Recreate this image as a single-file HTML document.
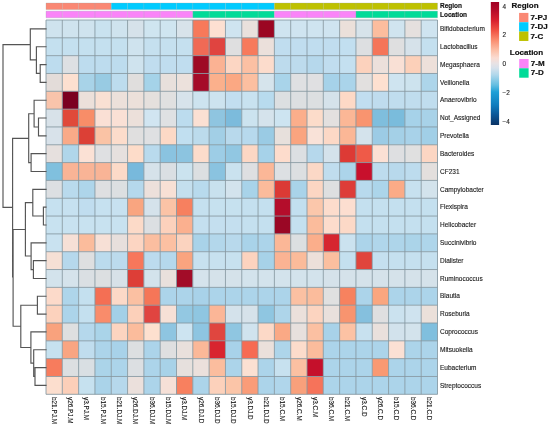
<!DOCTYPE html><html><head><meta charset="utf-8"><style>html,body{margin:0;padding:0;background:#fff;}svg{display:block;filter:blur(0.35px);}text{font-family:"Liberation Sans",sans-serif;}</style></head><body>
<svg width="550" height="427" viewBox="0 0 550 427">
<rect width="550" height="427" fill="#fff"/>
<rect x="46.00" y="20.00" width="16.36" height="17.87" fill="#cfe3ee"/>
<rect x="62.31" y="20.00" width="16.36" height="17.87" fill="#cfe3ee"/>
<rect x="78.62" y="20.00" width="16.36" height="17.87" fill="#cfe3ee"/>
<rect x="94.94" y="20.00" width="16.36" height="17.87" fill="#c9e2ef"/>
<rect x="111.25" y="20.00" width="16.36" height="17.87" fill="#cfe3ee"/>
<rect x="127.56" y="20.00" width="16.36" height="17.87" fill="#d6e2ea"/>
<rect x="143.88" y="20.00" width="16.36" height="17.87" fill="#cfe5f0"/>
<rect x="160.19" y="20.00" width="16.36" height="17.87" fill="#cfe5f0"/>
<rect x="176.50" y="20.00" width="16.36" height="17.87" fill="#d8e3ea"/>
<rect x="192.81" y="20.00" width="16.36" height="17.87" fill="#f7795a"/>
<rect x="209.12" y="20.00" width="16.36" height="17.87" fill="#fde0d2"/>
<rect x="225.44" y="20.00" width="16.36" height="17.87" fill="#cfe4f0"/>
<rect x="241.75" y="20.00" width="16.36" height="17.87" fill="#e9e0dc"/>
<rect x="258.06" y="20.00" width="16.36" height="17.87" fill="#9b0622"/>
<rect x="274.38" y="20.00" width="16.36" height="17.87" fill="#cfe4f0"/>
<rect x="290.69" y="20.00" width="16.36" height="17.87" fill="#cfe4f0"/>
<rect x="307.00" y="20.00" width="16.36" height="17.87" fill="#cfe4f0"/>
<rect x="323.31" y="20.00" width="16.36" height="17.87" fill="#cfe4f0"/>
<rect x="339.62" y="20.00" width="16.36" height="17.87" fill="#ebe0da"/>
<rect x="355.94" y="20.00" width="16.36" height="17.87" fill="#d7e3ea"/>
<rect x="372.25" y="20.00" width="16.36" height="17.87" fill="#fcbd9e"/>
<rect x="388.56" y="20.00" width="16.36" height="17.87" fill="#d0e4ef"/>
<rect x="404.88" y="20.00" width="16.36" height="17.87" fill="#e5e0de"/>
<rect x="421.19" y="20.00" width="16.36" height="17.87" fill="#cfe4f0"/>
<rect x="46.00" y="37.82" width="16.36" height="17.87" fill="#c4e0ef"/>
<rect x="62.31" y="37.82" width="16.36" height="17.87" fill="#c4e0ef"/>
<rect x="78.62" y="37.82" width="16.36" height="17.87" fill="#c4e0ef"/>
<rect x="94.94" y="37.82" width="16.36" height="17.87" fill="#c4e0ef"/>
<rect x="111.25" y="37.82" width="16.36" height="17.87" fill="#c4e0ef"/>
<rect x="127.56" y="37.82" width="16.36" height="17.87" fill="#cfe3ee"/>
<rect x="143.88" y="37.82" width="16.36" height="17.87" fill="#c5e0ef"/>
<rect x="160.19" y="37.82" width="16.36" height="17.87" fill="#c5e0ef"/>
<rect x="176.50" y="37.82" width="16.36" height="17.87" fill="#c5e0ef"/>
<rect x="192.81" y="37.82" width="16.36" height="17.87" fill="#f06a55"/>
<rect x="209.12" y="37.82" width="16.36" height="17.87" fill="#e04440"/>
<rect x="225.44" y="37.82" width="16.36" height="17.87" fill="#dfdfe0"/>
<rect x="241.75" y="37.82" width="16.36" height="17.87" fill="#f77a5c"/>
<rect x="258.06" y="37.82" width="16.36" height="17.87" fill="#ebe0db"/>
<rect x="274.38" y="37.82" width="16.36" height="17.87" fill="#c0ddef"/>
<rect x="290.69" y="37.82" width="16.36" height="17.87" fill="#c0ddef"/>
<rect x="307.00" y="37.82" width="16.36" height="17.87" fill="#c0ddef"/>
<rect x="323.31" y="37.82" width="16.36" height="17.87" fill="#c0ddef"/>
<rect x="339.62" y="37.82" width="16.36" height="17.87" fill="#c2dff0"/>
<rect x="355.94" y="37.82" width="16.36" height="17.87" fill="#dddfe1"/>
<rect x="372.25" y="37.82" width="16.36" height="17.87" fill="#f57559"/>
<rect x="388.56" y="37.82" width="16.36" height="17.87" fill="#dfdfe0"/>
<rect x="404.88" y="37.82" width="16.36" height="17.87" fill="#d6e2ea"/>
<rect x="421.19" y="37.82" width="16.36" height="17.87" fill="#c4e0ef"/>
<rect x="46.00" y="55.65" width="16.36" height="17.87" fill="#bddcee"/>
<rect x="62.31" y="55.65" width="16.36" height="17.87" fill="#dde0e3"/>
<rect x="78.62" y="55.65" width="16.36" height="17.87" fill="#bddcee"/>
<rect x="94.94" y="55.65" width="16.36" height="17.87" fill="#bddcee"/>
<rect x="111.25" y="55.65" width="16.36" height="17.87" fill="#bddcee"/>
<rect x="127.56" y="55.65" width="16.36" height="17.87" fill="#cfe3ee"/>
<rect x="143.88" y="55.65" width="16.36" height="17.87" fill="#c0ddef"/>
<rect x="160.19" y="55.65" width="16.36" height="17.87" fill="#c0ddef"/>
<rect x="176.50" y="55.65" width="16.36" height="17.87" fill="#c0ddef"/>
<rect x="192.81" y="55.65" width="16.36" height="17.87" fill="#9e0a24"/>
<rect x="209.12" y="55.65" width="16.36" height="17.87" fill="#fbb293"/>
<rect x="225.44" y="55.65" width="16.36" height="17.87" fill="#fcd6c3"/>
<rect x="241.75" y="55.65" width="16.36" height="17.87" fill="#fcc0a3"/>
<rect x="258.06" y="55.65" width="16.36" height="17.87" fill="#fcdccc"/>
<rect x="274.38" y="55.65" width="16.36" height="17.87" fill="#bddbed"/>
<rect x="290.69" y="55.65" width="16.36" height="17.87" fill="#bddbed"/>
<rect x="307.00" y="55.65" width="16.36" height="17.87" fill="#b6d8ec"/>
<rect x="323.31" y="55.65" width="16.36" height="17.87" fill="#c0ddef"/>
<rect x="339.62" y="55.65" width="16.36" height="17.87" fill="#c4e0f0"/>
<rect x="355.94" y="55.65" width="16.36" height="17.87" fill="#fcd2bd"/>
<rect x="372.25" y="55.65" width="16.36" height="17.87" fill="#ece0db"/>
<rect x="388.56" y="55.65" width="16.36" height="17.87" fill="#f9e0d5"/>
<rect x="404.88" y="55.65" width="16.36" height="17.87" fill="#fcd0b9"/>
<rect x="421.19" y="55.65" width="16.36" height="17.87" fill="#ede0da"/>
<rect x="46.00" y="73.47" width="16.36" height="17.87" fill="#e3dcd9"/>
<rect x="62.31" y="73.47" width="16.36" height="17.87" fill="#fde0d0"/>
<rect x="78.62" y="73.47" width="16.36" height="17.87" fill="#a8d3e8"/>
<rect x="94.94" y="73.47" width="16.36" height="17.87" fill="#98cbe3"/>
<rect x="111.25" y="73.47" width="16.36" height="17.87" fill="#bddcee"/>
<rect x="127.56" y="73.47" width="16.36" height="17.87" fill="#e0dedd"/>
<rect x="143.88" y="73.47" width="16.36" height="17.87" fill="#a5d3e9"/>
<rect x="160.19" y="73.47" width="16.36" height="17.87" fill="#e8e0dc"/>
<rect x="176.50" y="73.47" width="16.36" height="17.87" fill="#ece1dc"/>
<rect x="192.81" y="73.47" width="16.36" height="17.87" fill="#a50b28"/>
<rect x="209.12" y="73.47" width="16.36" height="17.87" fill="#fbb08c"/>
<rect x="225.44" y="73.47" width="16.36" height="17.87" fill="#fba883"/>
<rect x="241.75" y="73.47" width="16.36" height="17.87" fill="#fcbfa0"/>
<rect x="258.06" y="73.47" width="16.36" height="17.87" fill="#d6e4ec"/>
<rect x="274.38" y="73.47" width="16.36" height="17.87" fill="#a9d4ea"/>
<rect x="290.69" y="73.47" width="16.36" height="17.87" fill="#dfe0e2"/>
<rect x="307.00" y="73.47" width="16.36" height="17.87" fill="#e0e0e2"/>
<rect x="323.31" y="73.47" width="16.36" height="17.87" fill="#a6d2e9"/>
<rect x="339.62" y="73.47" width="16.36" height="17.87" fill="#aad4ea"/>
<rect x="355.94" y="73.47" width="16.36" height="17.87" fill="#e2e0df"/>
<rect x="372.25" y="73.47" width="16.36" height="17.87" fill="#fde0d0"/>
<rect x="388.56" y="73.47" width="16.36" height="17.87" fill="#cfe4f0"/>
<rect x="404.88" y="73.47" width="16.36" height="17.87" fill="#cde3ee"/>
<rect x="421.19" y="73.47" width="16.36" height="17.87" fill="#add5ea"/>
<rect x="46.00" y="91.30" width="16.36" height="17.87" fill="#f9c4ab"/>
<rect x="62.31" y="91.30" width="16.36" height="17.87" fill="#7b0020"/>
<rect x="78.62" y="91.30" width="16.36" height="17.87" fill="#ece0da"/>
<rect x="94.94" y="91.30" width="16.36" height="17.87" fill="#f9e0d3"/>
<rect x="111.25" y="91.30" width="16.36" height="17.87" fill="#ece0da"/>
<rect x="127.56" y="91.30" width="16.36" height="17.87" fill="#ece0da"/>
<rect x="143.88" y="91.30" width="16.36" height="17.87" fill="#e5e0dd"/>
<rect x="160.19" y="91.30" width="16.36" height="17.87" fill="#e0e0e0"/>
<rect x="176.50" y="91.30" width="16.36" height="17.87" fill="#d7e3eb"/>
<rect x="192.81" y="91.30" width="16.36" height="17.87" fill="#cde3ef"/>
<rect x="209.12" y="91.30" width="16.36" height="17.87" fill="#cde3ef"/>
<rect x="225.44" y="91.30" width="16.36" height="17.87" fill="#c2def0"/>
<rect x="241.75" y="91.30" width="16.36" height="17.87" fill="#c8e2f0"/>
<rect x="258.06" y="91.30" width="16.36" height="17.87" fill="#b8dbee"/>
<rect x="274.38" y="91.30" width="16.36" height="17.87" fill="#dcdfe1"/>
<rect x="290.69" y="91.30" width="16.36" height="17.87" fill="#dcdfe1"/>
<rect x="307.00" y="91.30" width="16.36" height="17.87" fill="#dcdfe1"/>
<rect x="323.31" y="91.30" width="16.36" height="17.87" fill="#d5e2ea"/>
<rect x="339.62" y="91.30" width="16.36" height="17.87" fill="#fdd9c6"/>
<rect x="355.94" y="91.30" width="16.36" height="17.87" fill="#c1def0"/>
<rect x="372.25" y="91.30" width="16.36" height="17.87" fill="#bfdcee"/>
<rect x="388.56" y="91.30" width="16.36" height="17.87" fill="#c0ddee"/>
<rect x="404.88" y="91.30" width="16.36" height="17.87" fill="#c0ddee"/>
<rect x="421.19" y="91.30" width="16.36" height="17.87" fill="#c0ddee"/>
<rect x="46.00" y="109.12" width="16.36" height="17.87" fill="#d8e2e9"/>
<rect x="62.31" y="109.12" width="16.36" height="17.87" fill="#e0493a"/>
<rect x="78.62" y="109.12" width="16.36" height="17.87" fill="#f88d68"/>
<rect x="94.94" y="109.12" width="16.36" height="17.87" fill="#fae0d5"/>
<rect x="111.25" y="109.12" width="16.36" height="17.87" fill="#fae0d5"/>
<rect x="127.56" y="109.12" width="16.36" height="17.87" fill="#ece0da"/>
<rect x="143.88" y="109.12" width="16.36" height="17.87" fill="#d1e5f1"/>
<rect x="160.19" y="109.12" width="16.36" height="17.87" fill="#dfe1e3"/>
<rect x="176.50" y="109.12" width="16.36" height="17.87" fill="#bcdcee"/>
<rect x="192.81" y="109.12" width="16.36" height="17.87" fill="#fbe0d3"/>
<rect x="209.12" y="109.12" width="16.36" height="17.87" fill="#8fc5e0"/>
<rect x="225.44" y="109.12" width="16.36" height="17.87" fill="#7cbbdc"/>
<rect x="241.75" y="109.12" width="16.36" height="17.87" fill="#cce3ef"/>
<rect x="258.06" y="109.12" width="16.36" height="17.87" fill="#d5e3ec"/>
<rect x="274.38" y="109.12" width="16.36" height="17.87" fill="#cde4f1"/>
<rect x="290.69" y="109.12" width="16.36" height="17.87" fill="#fbae8b"/>
<rect x="307.00" y="109.12" width="16.36" height="17.87" fill="#fcdcca"/>
<rect x="323.31" y="109.12" width="16.36" height="17.87" fill="#e3e0df"/>
<rect x="339.62" y="109.12" width="16.36" height="17.87" fill="#fbb796"/>
<rect x="355.94" y="109.12" width="16.36" height="17.87" fill="#f9946f"/>
<rect x="372.25" y="109.12" width="16.36" height="17.87" fill="#7fbedd"/>
<rect x="388.56" y="109.12" width="16.36" height="17.87" fill="#7abcdc"/>
<rect x="404.88" y="109.12" width="16.36" height="17.87" fill="#a6d2e9"/>
<rect x="421.19" y="109.12" width="16.36" height="17.87" fill="#a8d2e8"/>
<rect x="46.00" y="126.94" width="16.36" height="17.87" fill="#d8e2ea"/>
<rect x="62.31" y="126.94" width="16.36" height="17.87" fill="#f9aa88"/>
<rect x="78.62" y="126.94" width="16.36" height="17.87" fill="#dc4036"/>
<rect x="94.94" y="126.94" width="16.36" height="17.87" fill="#fac3a5"/>
<rect x="111.25" y="126.94" width="16.36" height="17.87" fill="#fcdccb"/>
<rect x="127.56" y="126.94" width="16.36" height="17.87" fill="#e0dfdf"/>
<rect x="143.88" y="126.94" width="16.36" height="17.87" fill="#dfe0e2"/>
<rect x="160.19" y="126.94" width="16.36" height="17.87" fill="#fcd9c6"/>
<rect x="176.50" y="126.94" width="16.36" height="17.87" fill="#c1dff0"/>
<rect x="192.81" y="126.94" width="16.36" height="17.87" fill="#bcdbec"/>
<rect x="209.12" y="126.94" width="16.36" height="17.87" fill="#a2cfe6"/>
<rect x="225.44" y="126.94" width="16.36" height="17.87" fill="#b8d9ec"/>
<rect x="241.75" y="126.94" width="16.36" height="17.87" fill="#b7d9ed"/>
<rect x="258.06" y="126.94" width="16.36" height="17.87" fill="#9acbe4"/>
<rect x="274.38" y="126.94" width="16.36" height="17.87" fill="#e7e0dc"/>
<rect x="290.69" y="126.94" width="16.36" height="17.87" fill="#faa47f"/>
<rect x="307.00" y="126.94" width="16.36" height="17.87" fill="#f9e2d8"/>
<rect x="323.31" y="126.94" width="16.36" height="17.87" fill="#fcd8c6"/>
<rect x="339.62" y="126.94" width="16.36" height="17.87" fill="#fbb796"/>
<rect x="355.94" y="126.94" width="16.36" height="17.87" fill="#d4e3ec"/>
<rect x="372.25" y="126.94" width="16.36" height="17.87" fill="#9ccbe5"/>
<rect x="388.56" y="126.94" width="16.36" height="17.87" fill="#a4d0e7"/>
<rect x="404.88" y="126.94" width="16.36" height="17.87" fill="#a8d2e9"/>
<rect x="421.19" y="126.94" width="16.36" height="17.87" fill="#a1cfe7"/>
<rect x="46.00" y="144.77" width="16.36" height="17.87" fill="#e6e0de"/>
<rect x="62.31" y="144.77" width="16.36" height="17.87" fill="#b0d6ea"/>
<rect x="78.62" y="144.77" width="16.36" height="17.87" fill="#fbe1d5"/>
<rect x="94.94" y="144.77" width="16.36" height="17.87" fill="#dfe0e2"/>
<rect x="111.25" y="144.77" width="16.36" height="17.87" fill="#e6e0de"/>
<rect x="127.56" y="144.77" width="16.36" height="17.87" fill="#fddcc9"/>
<rect x="143.88" y="144.77" width="16.36" height="17.87" fill="#b9daed"/>
<rect x="160.19" y="144.77" width="16.36" height="17.87" fill="#8ac3e0"/>
<rect x="176.50" y="144.77" width="16.36" height="17.87" fill="#8cc4e0"/>
<rect x="192.81" y="144.77" width="16.36" height="17.87" fill="#fcdccb"/>
<rect x="209.12" y="144.77" width="16.36" height="17.87" fill="#9dcde6"/>
<rect x="225.44" y="144.77" width="16.36" height="17.87" fill="#91c7e2"/>
<rect x="241.75" y="144.77" width="16.36" height="17.87" fill="#fcd7c4"/>
<rect x="258.06" y="144.77" width="16.36" height="17.87" fill="#a6d2e9"/>
<rect x="274.38" y="144.77" width="16.36" height="17.87" fill="#fddccc"/>
<rect x="290.69" y="144.77" width="16.36" height="17.87" fill="#dcdfe2"/>
<rect x="307.00" y="144.77" width="16.36" height="17.87" fill="#b6d8ec"/>
<rect x="323.31" y="144.77" width="16.36" height="17.87" fill="#d4e2eb"/>
<rect x="339.62" y="144.77" width="16.36" height="17.87" fill="#dd3a35"/>
<rect x="355.94" y="144.77" width="16.36" height="17.87" fill="#ef5a48"/>
<rect x="372.25" y="144.77" width="16.36" height="17.87" fill="#fbe0d4"/>
<rect x="388.56" y="144.77" width="16.36" height="17.87" fill="#dedfe1"/>
<rect x="404.88" y="144.77" width="16.36" height="17.87" fill="#e0e0e0"/>
<rect x="421.19" y="144.77" width="16.36" height="17.87" fill="#fcd6c3"/>
<rect x="46.00" y="162.59" width="16.36" height="17.87" fill="#80c0de"/>
<rect x="62.31" y="162.59" width="16.36" height="17.87" fill="#f9b496"/>
<rect x="78.62" y="162.59" width="16.36" height="17.87" fill="#f9b496"/>
<rect x="94.94" y="162.59" width="16.36" height="17.87" fill="#f9b496"/>
<rect x="111.25" y="162.59" width="16.36" height="17.87" fill="#fcdac8"/>
<rect x="127.56" y="162.59" width="16.36" height="17.87" fill="#78b9dc"/>
<rect x="143.88" y="162.59" width="16.36" height="17.87" fill="#d6e2ea"/>
<rect x="160.19" y="162.59" width="16.36" height="17.87" fill="#dadfe3"/>
<rect x="176.50" y="162.59" width="16.36" height="17.87" fill="#cbe3ef"/>
<rect x="192.81" y="162.59" width="16.36" height="17.87" fill="#dcdfe1"/>
<rect x="209.12" y="162.59" width="16.36" height="17.87" fill="#8ac3e0"/>
<rect x="225.44" y="162.59" width="16.36" height="17.87" fill="#cae2ef"/>
<rect x="241.75" y="162.59" width="16.36" height="17.87" fill="#dedfe1"/>
<rect x="258.06" y="162.59" width="16.36" height="17.87" fill="#fbb797"/>
<rect x="274.38" y="162.59" width="16.36" height="17.87" fill="#dde0e3"/>
<rect x="290.69" y="162.59" width="16.36" height="17.87" fill="#dcdfe1"/>
<rect x="307.00" y="162.59" width="16.36" height="17.87" fill="#fbd8c6"/>
<rect x="323.31" y="162.59" width="16.36" height="17.87" fill="#c0ddee"/>
<rect x="339.62" y="162.59" width="16.36" height="17.87" fill="#acd4ea"/>
<rect x="355.94" y="162.59" width="16.36" height="17.87" fill="#c8102c"/>
<rect x="372.25" y="162.59" width="16.36" height="17.87" fill="#bddcee"/>
<rect x="388.56" y="162.59" width="16.36" height="17.87" fill="#b8d9ec"/>
<rect x="404.88" y="162.59" width="16.36" height="17.87" fill="#bddcee"/>
<rect x="421.19" y="162.59" width="16.36" height="17.87" fill="#e3dfdd"/>
<rect x="46.00" y="180.41" width="16.36" height="17.87" fill="#dcdfe2"/>
<rect x="62.31" y="180.41" width="16.36" height="17.87" fill="#b9daed"/>
<rect x="78.62" y="180.41" width="16.36" height="17.87" fill="#aed5ea"/>
<rect x="94.94" y="180.41" width="16.36" height="17.87" fill="#dedfe1"/>
<rect x="111.25" y="180.41" width="16.36" height="17.87" fill="#dcdfe1"/>
<rect x="127.56" y="180.41" width="16.36" height="17.87" fill="#b5d8ec"/>
<rect x="143.88" y="180.41" width="16.36" height="17.87" fill="#ede0db"/>
<rect x="160.19" y="180.41" width="16.36" height="17.87" fill="#f8e0d5"/>
<rect x="176.50" y="180.41" width="16.36" height="17.87" fill="#c4dfee"/>
<rect x="192.81" y="180.41" width="16.36" height="17.87" fill="#b8daed"/>
<rect x="209.12" y="180.41" width="16.36" height="17.87" fill="#c8e1ee"/>
<rect x="225.44" y="180.41" width="16.36" height="17.87" fill="#d3e3ed"/>
<rect x="241.75" y="180.41" width="16.36" height="17.87" fill="#a8d3e9"/>
<rect x="258.06" y="180.41" width="16.36" height="17.87" fill="#fbbb9b"/>
<rect x="274.38" y="180.41" width="16.36" height="17.87" fill="#db3a35"/>
<rect x="290.69" y="180.41" width="16.36" height="17.87" fill="#a9d3e9"/>
<rect x="307.00" y="180.41" width="16.36" height="17.87" fill="#fcd6c3"/>
<rect x="323.31" y="180.41" width="16.36" height="17.87" fill="#dedfe0"/>
<rect x="339.62" y="180.41" width="16.36" height="17.87" fill="#dd3d38"/>
<rect x="355.94" y="180.41" width="16.36" height="17.87" fill="#b8daed"/>
<rect x="372.25" y="180.41" width="16.36" height="17.87" fill="#acd5ea"/>
<rect x="388.56" y="180.41" width="16.36" height="17.87" fill="#fbab87"/>
<rect x="404.88" y="180.41" width="16.36" height="17.87" fill="#c7e1ef"/>
<rect x="421.19" y="180.41" width="16.36" height="17.87" fill="#d3e3ec"/>
<rect x="46.00" y="198.24" width="16.36" height="17.87" fill="#c6e1f0"/>
<rect x="62.31" y="198.24" width="16.36" height="17.87" fill="#c6e1f0"/>
<rect x="78.62" y="198.24" width="16.36" height="17.87" fill="#c0ddef"/>
<rect x="94.94" y="198.24" width="16.36" height="17.87" fill="#c6e1f0"/>
<rect x="111.25" y="198.24" width="16.36" height="17.87" fill="#c7e1f0"/>
<rect x="127.56" y="198.24" width="16.36" height="17.87" fill="#f9a580"/>
<rect x="143.88" y="198.24" width="16.36" height="17.87" fill="#d5e2eb"/>
<rect x="160.19" y="198.24" width="16.36" height="17.87" fill="#fbc3a6"/>
<rect x="176.50" y="198.24" width="16.36" height="17.87" fill="#f7805f"/>
<rect x="192.81" y="198.24" width="16.36" height="17.87" fill="#c5e0ef"/>
<rect x="209.12" y="198.24" width="16.36" height="17.87" fill="#c6e1ef"/>
<rect x="225.44" y="198.24" width="16.36" height="17.87" fill="#c6e1ef"/>
<rect x="241.75" y="198.24" width="16.36" height="17.87" fill="#c4e0ef"/>
<rect x="258.06" y="198.24" width="16.36" height="17.87" fill="#c4e0ef"/>
<rect x="274.38" y="198.24" width="16.36" height="17.87" fill="#b40d2b"/>
<rect x="290.69" y="198.24" width="16.36" height="17.87" fill="#c2dfef"/>
<rect x="307.00" y="198.24" width="16.36" height="17.87" fill="#fbc7ab"/>
<rect x="323.31" y="198.24" width="16.36" height="17.87" fill="#fcdccc"/>
<rect x="339.62" y="198.24" width="16.36" height="17.87" fill="#fcded0"/>
<rect x="355.94" y="198.24" width="16.36" height="17.87" fill="#c4e0ef"/>
<rect x="372.25" y="198.24" width="16.36" height="17.87" fill="#c4e0ef"/>
<rect x="388.56" y="198.24" width="16.36" height="17.87" fill="#c4e0ef"/>
<rect x="404.88" y="198.24" width="16.36" height="17.87" fill="#c4e0ef"/>
<rect x="421.19" y="198.24" width="16.36" height="17.87" fill="#c4e0ef"/>
<rect x="46.00" y="216.06" width="16.36" height="17.87" fill="#c8e2f0"/>
<rect x="62.31" y="216.06" width="16.36" height="17.87" fill="#c8e2f0"/>
<rect x="78.62" y="216.06" width="16.36" height="17.87" fill="#c8e2f0"/>
<rect x="94.94" y="216.06" width="16.36" height="17.87" fill="#c8e2f0"/>
<rect x="111.25" y="216.06" width="16.36" height="17.87" fill="#c8e2f0"/>
<rect x="127.56" y="216.06" width="16.36" height="17.87" fill="#fcdac8"/>
<rect x="143.88" y="216.06" width="16.36" height="17.87" fill="#dcdfe2"/>
<rect x="160.19" y="216.06" width="16.36" height="17.87" fill="#fcd1bc"/>
<rect x="176.50" y="216.06" width="16.36" height="17.87" fill="#fbb08f"/>
<rect x="192.81" y="216.06" width="16.36" height="17.87" fill="#c4dfef"/>
<rect x="209.12" y="216.06" width="16.36" height="17.87" fill="#c4dfef"/>
<rect x="225.44" y="216.06" width="16.36" height="17.87" fill="#c4dfef"/>
<rect x="241.75" y="216.06" width="16.36" height="17.87" fill="#c4e0ef"/>
<rect x="258.06" y="216.06" width="16.36" height="17.87" fill="#c4e0ef"/>
<rect x="274.38" y="216.06" width="16.36" height="17.87" fill="#9a0725"/>
<rect x="290.69" y="216.06" width="16.36" height="17.87" fill="#c4e0ef"/>
<rect x="307.00" y="216.06" width="16.36" height="17.87" fill="#fbbc9c"/>
<rect x="323.31" y="216.06" width="16.36" height="17.87" fill="#fcdccc"/>
<rect x="339.62" y="216.06" width="16.36" height="17.87" fill="#fcd9c7"/>
<rect x="355.94" y="216.06" width="16.36" height="17.87" fill="#c4e0ef"/>
<rect x="372.25" y="216.06" width="16.36" height="17.87" fill="#c4e0ef"/>
<rect x="388.56" y="216.06" width="16.36" height="17.87" fill="#c4e0ef"/>
<rect x="404.88" y="216.06" width="16.36" height="17.87" fill="#c4e0ef"/>
<rect x="421.19" y="216.06" width="16.36" height="17.87" fill="#c4e0ef"/>
<rect x="46.00" y="233.89" width="16.36" height="17.87" fill="#c9e2f0"/>
<rect x="62.31" y="233.89" width="16.36" height="17.87" fill="#f6e0d6"/>
<rect x="78.62" y="233.89" width="16.36" height="17.87" fill="#fbbc9c"/>
<rect x="94.94" y="233.89" width="16.36" height="17.87" fill="#f7e0d6"/>
<rect x="111.25" y="233.89" width="16.36" height="17.87" fill="#e7dfdc"/>
<rect x="127.56" y="233.89" width="16.36" height="17.87" fill="#fcd5c2"/>
<rect x="143.88" y="233.89" width="16.36" height="17.87" fill="#fbbea0"/>
<rect x="160.19" y="233.89" width="16.36" height="17.87" fill="#fcc0a2"/>
<rect x="176.50" y="233.89" width="16.36" height="17.87" fill="#fbd3bf"/>
<rect x="192.81" y="233.89" width="16.36" height="17.87" fill="#a9d3e9"/>
<rect x="209.12" y="233.89" width="16.36" height="17.87" fill="#b3d7eb"/>
<rect x="225.44" y="233.89" width="16.36" height="17.87" fill="#b8d9ec"/>
<rect x="241.75" y="233.89" width="16.36" height="17.87" fill="#a9d3e9"/>
<rect x="258.06" y="233.89" width="16.36" height="17.87" fill="#acd4ea"/>
<rect x="274.38" y="233.89" width="16.36" height="17.87" fill="#fbb797"/>
<rect x="290.69" y="233.89" width="16.36" height="17.87" fill="#dcdfe1"/>
<rect x="307.00" y="233.89" width="16.36" height="17.87" fill="#fbae8b"/>
<rect x="323.31" y="233.89" width="16.36" height="17.87" fill="#d6262f"/>
<rect x="339.62" y="233.89" width="16.36" height="17.87" fill="#cbe2ef"/>
<rect x="355.94" y="233.89" width="16.36" height="17.87" fill="#acd4ea"/>
<rect x="372.25" y="233.89" width="16.36" height="17.87" fill="#b0d6eb"/>
<rect x="388.56" y="233.89" width="16.36" height="17.87" fill="#aed5ea"/>
<rect x="404.88" y="233.89" width="16.36" height="17.87" fill="#abd4e9"/>
<rect x="421.19" y="233.89" width="16.36" height="17.87" fill="#aed5ea"/>
<rect x="46.00" y="251.71" width="16.36" height="17.87" fill="#f6e0d5"/>
<rect x="62.31" y="251.71" width="16.36" height="17.87" fill="#b6d8ec"/>
<rect x="78.62" y="251.71" width="16.36" height="17.87" fill="#dedfe0"/>
<rect x="94.94" y="251.71" width="16.36" height="17.87" fill="#bbdbed"/>
<rect x="111.25" y="251.71" width="16.36" height="17.87" fill="#bcdbed"/>
<rect x="127.56" y="251.71" width="16.36" height="17.87" fill="#f7775b"/>
<rect x="143.88" y="251.71" width="16.36" height="17.87" fill="#bcdbee"/>
<rect x="160.19" y="251.71" width="16.36" height="17.87" fill="#b5d8ec"/>
<rect x="176.50" y="251.71" width="16.36" height="17.87" fill="#f9a47f"/>
<rect x="192.81" y="251.71" width="16.36" height="17.87" fill="#c7e1ef"/>
<rect x="209.12" y="251.71" width="16.36" height="17.87" fill="#c7e1ef"/>
<rect x="225.44" y="251.71" width="16.36" height="17.87" fill="#c7e1ef"/>
<rect x="241.75" y="251.71" width="16.36" height="17.87" fill="#fcd3bf"/>
<rect x="258.06" y="251.71" width="16.36" height="17.87" fill="#a7d2e8"/>
<rect x="274.38" y="251.71" width="16.36" height="17.87" fill="#fbb393"/>
<rect x="290.69" y="251.71" width="16.36" height="17.87" fill="#fbbb9a"/>
<rect x="307.00" y="251.71" width="16.36" height="17.87" fill="#ede0da"/>
<rect x="323.31" y="251.71" width="16.36" height="17.87" fill="#fbbf9f"/>
<rect x="339.62" y="251.71" width="16.36" height="17.87" fill="#c4e0ef"/>
<rect x="355.94" y="251.71" width="16.36" height="17.87" fill="#e0453c"/>
<rect x="372.25" y="251.71" width="16.36" height="17.87" fill="#c5e0ef"/>
<rect x="388.56" y="251.71" width="16.36" height="17.87" fill="#c5e0ef"/>
<rect x="404.88" y="251.71" width="16.36" height="17.87" fill="#c5e0ef"/>
<rect x="421.19" y="251.71" width="16.36" height="17.87" fill="#c5e0ef"/>
<rect x="46.00" y="269.53" width="16.36" height="17.87" fill="#d3e3ec"/>
<rect x="62.31" y="269.53" width="16.36" height="17.87" fill="#d5e3eb"/>
<rect x="78.62" y="269.53" width="16.36" height="17.87" fill="#dadfe3"/>
<rect x="94.94" y="269.53" width="16.36" height="17.87" fill="#dcdfe1"/>
<rect x="111.25" y="269.53" width="16.36" height="17.87" fill="#d7e1e8"/>
<rect x="127.56" y="269.53" width="16.36" height="17.87" fill="#dd3e37"/>
<rect x="143.88" y="269.53" width="16.36" height="17.87" fill="#d3e3ec"/>
<rect x="160.19" y="269.53" width="16.36" height="17.87" fill="#e9e0dc"/>
<rect x="176.50" y="269.53" width="16.36" height="17.87" fill="#a20c28"/>
<rect x="192.81" y="269.53" width="16.36" height="17.87" fill="#d5e3ec"/>
<rect x="209.12" y="269.53" width="16.36" height="17.87" fill="#d5e2ea"/>
<rect x="225.44" y="269.53" width="16.36" height="17.87" fill="#d5e2ea"/>
<rect x="241.75" y="269.53" width="16.36" height="17.87" fill="#d3e3ec"/>
<rect x="258.06" y="269.53" width="16.36" height="17.87" fill="#d3e3ec"/>
<rect x="274.38" y="269.53" width="16.36" height="17.87" fill="#d3e3ec"/>
<rect x="290.69" y="269.53" width="16.36" height="17.87" fill="#d3e3ec"/>
<rect x="307.00" y="269.53" width="16.36" height="17.87" fill="#d3e3ec"/>
<rect x="323.31" y="269.53" width="16.36" height="17.87" fill="#d5e2ea"/>
<rect x="339.62" y="269.53" width="16.36" height="17.87" fill="#d5e2ea"/>
<rect x="355.94" y="269.53" width="16.36" height="17.87" fill="#d5e2ea"/>
<rect x="372.25" y="269.53" width="16.36" height="17.87" fill="#d5e2ea"/>
<rect x="388.56" y="269.53" width="16.36" height="17.87" fill="#d5e2ea"/>
<rect x="404.88" y="269.53" width="16.36" height="17.87" fill="#d5e2ea"/>
<rect x="421.19" y="269.53" width="16.36" height="17.87" fill="#d5e2ea"/>
<rect x="46.00" y="287.36" width="16.36" height="17.87" fill="#fcdaca"/>
<rect x="62.31" y="287.36" width="16.36" height="17.87" fill="#aed5ea"/>
<rect x="78.62" y="287.36" width="16.36" height="17.87" fill="#c4e0ef"/>
<rect x="94.94" y="287.36" width="16.36" height="17.87" fill="#f46f54"/>
<rect x="111.25" y="287.36" width="16.36" height="17.87" fill="#fcd9c7"/>
<rect x="127.56" y="287.36" width="16.36" height="17.87" fill="#fbc0a2"/>
<rect x="143.88" y="287.36" width="16.36" height="17.87" fill="#f57658"/>
<rect x="160.19" y="287.36" width="16.36" height="17.87" fill="#acd4ea"/>
<rect x="176.50" y="287.36" width="16.36" height="17.87" fill="#acd4ea"/>
<rect x="192.81" y="287.36" width="16.36" height="17.87" fill="#a8d2e9"/>
<rect x="209.12" y="287.36" width="16.36" height="17.87" fill="#acd4ea"/>
<rect x="225.44" y="287.36" width="16.36" height="17.87" fill="#acd4ea"/>
<rect x="241.75" y="287.36" width="16.36" height="17.87" fill="#acd4ea"/>
<rect x="258.06" y="287.36" width="16.36" height="17.87" fill="#acd4ea"/>
<rect x="274.38" y="287.36" width="16.36" height="17.87" fill="#acd4ea"/>
<rect x="290.69" y="287.36" width="16.36" height="17.87" fill="#fbc0a2"/>
<rect x="307.00" y="287.36" width="16.36" height="17.87" fill="#fbbc9c"/>
<rect x="323.31" y="287.36" width="16.36" height="17.87" fill="#e0e0e0"/>
<rect x="339.62" y="287.36" width="16.36" height="17.87" fill="#f7825f"/>
<rect x="355.94" y="287.36" width="16.36" height="17.87" fill="#acd4ea"/>
<rect x="372.25" y="287.36" width="16.36" height="17.87" fill="#faa67f"/>
<rect x="388.56" y="287.36" width="16.36" height="17.87" fill="#acd4ea"/>
<rect x="404.88" y="287.36" width="16.36" height="17.87" fill="#acd4ea"/>
<rect x="421.19" y="287.36" width="16.36" height="17.87" fill="#acd4ea"/>
<rect x="46.00" y="305.18" width="16.36" height="17.87" fill="#fcd2bd"/>
<rect x="62.31" y="305.18" width="16.36" height="17.87" fill="#acd4ea"/>
<rect x="78.62" y="305.18" width="16.36" height="17.87" fill="#c4e0ef"/>
<rect x="94.94" y="305.18" width="16.36" height="17.87" fill="#f98c6b"/>
<rect x="111.25" y="305.18" width="16.36" height="17.87" fill="#a3d0e7"/>
<rect x="127.56" y="305.18" width="16.36" height="17.87" fill="#fcd0ba"/>
<rect x="143.88" y="305.18" width="16.36" height="17.87" fill="#e04440"/>
<rect x="160.19" y="305.18" width="16.36" height="17.87" fill="#f6e0d6"/>
<rect x="176.50" y="305.18" width="16.36" height="17.87" fill="#93c8e2"/>
<rect x="192.81" y="305.18" width="16.36" height="17.87" fill="#8fc6e1"/>
<rect x="209.12" y="305.18" width="16.36" height="17.87" fill="#fbb697"/>
<rect x="225.44" y="305.18" width="16.36" height="17.87" fill="#d4e2eb"/>
<rect x="241.75" y="305.18" width="16.36" height="17.87" fill="#d6e2ea"/>
<rect x="258.06" y="305.18" width="16.36" height="17.87" fill="#8fc6e1"/>
<rect x="274.38" y="305.18" width="16.36" height="17.87" fill="#aed5ea"/>
<rect x="290.69" y="305.18" width="16.36" height="17.87" fill="#ebe0db"/>
<rect x="307.00" y="305.18" width="16.36" height="17.87" fill="#fcd4c0"/>
<rect x="323.31" y="305.18" width="16.36" height="17.87" fill="#e9e0dc"/>
<rect x="339.62" y="305.18" width="16.36" height="17.87" fill="#f8946f"/>
<rect x="355.94" y="305.18" width="16.36" height="17.87" fill="#85c0de"/>
<rect x="372.25" y="305.18" width="16.36" height="17.87" fill="#dfdfe0"/>
<rect x="388.56" y="305.18" width="16.36" height="17.87" fill="#cbe2ef"/>
<rect x="404.88" y="305.18" width="16.36" height="17.87" fill="#cfe3ef"/>
<rect x="421.19" y="305.18" width="16.36" height="17.87" fill="#ebe0da"/>
<rect x="46.00" y="323.00" width="16.36" height="17.87" fill="#f9a27d"/>
<rect x="62.31" y="323.00" width="16.36" height="17.87" fill="#dedfe0"/>
<rect x="78.62" y="323.00" width="16.36" height="17.87" fill="#b5d8ec"/>
<rect x="94.94" y="323.00" width="16.36" height="17.87" fill="#aad4e9"/>
<rect x="111.25" y="323.00" width="16.36" height="17.87" fill="#fcd4c0"/>
<rect x="127.56" y="323.00" width="16.36" height="17.87" fill="#fbbc9c"/>
<rect x="143.88" y="323.00" width="16.36" height="17.87" fill="#fde0cf"/>
<rect x="160.19" y="323.00" width="16.36" height="17.87" fill="#8ec5e1"/>
<rect x="176.50" y="323.00" width="16.36" height="17.87" fill="#cde4f1"/>
<rect x="192.81" y="323.00" width="16.36" height="17.87" fill="#8ec5e1"/>
<rect x="209.12" y="323.00" width="16.36" height="17.87" fill="#e0463f"/>
<rect x="225.44" y="323.00" width="16.36" height="17.87" fill="#8fc6e1"/>
<rect x="241.75" y="323.00" width="16.36" height="17.87" fill="#d0e3ee"/>
<rect x="258.06" y="323.00" width="16.36" height="17.87" fill="#fcd9c7"/>
<rect x="274.38" y="323.00" width="16.36" height="17.87" fill="#faa985"/>
<rect x="290.69" y="323.00" width="16.36" height="17.87" fill="#e7e0dd"/>
<rect x="307.00" y="323.00" width="16.36" height="17.87" fill="#fbc0a2"/>
<rect x="323.31" y="323.00" width="16.36" height="17.87" fill="#a8d2e9"/>
<rect x="339.62" y="323.00" width="16.36" height="17.87" fill="#fcc2a4"/>
<rect x="355.94" y="323.00" width="16.36" height="17.87" fill="#c8e1ef"/>
<rect x="372.25" y="323.00" width="16.36" height="17.87" fill="#e9e0dc"/>
<rect x="388.56" y="323.00" width="16.36" height="17.87" fill="#d2e2ec"/>
<rect x="404.88" y="323.00" width="16.36" height="17.87" fill="#d3e3ec"/>
<rect x="421.19" y="323.00" width="16.36" height="17.87" fill="#80bfde"/>
<rect x="46.00" y="340.83" width="16.36" height="17.87" fill="#c6e1ef"/>
<rect x="62.31" y="340.83" width="16.36" height="17.87" fill="#f9a582"/>
<rect x="78.62" y="340.83" width="16.36" height="17.87" fill="#c0ddee"/>
<rect x="94.94" y="340.83" width="16.36" height="17.87" fill="#acd4ea"/>
<rect x="111.25" y="340.83" width="16.36" height="17.87" fill="#a8d2e9"/>
<rect x="127.56" y="340.83" width="16.36" height="17.87" fill="#dcdfe1"/>
<rect x="143.88" y="340.83" width="16.36" height="17.87" fill="#acd4ea"/>
<rect x="160.19" y="340.83" width="16.36" height="17.87" fill="#dfdfe0"/>
<rect x="176.50" y="340.83" width="16.36" height="17.87" fill="#e9e0dc"/>
<rect x="192.81" y="340.83" width="16.36" height="17.87" fill="#fbb898"/>
<rect x="209.12" y="340.83" width="16.36" height="17.87" fill="#d8252f"/>
<rect x="225.44" y="340.83" width="16.36" height="17.87" fill="#a8d2e9"/>
<rect x="241.75" y="340.83" width="16.36" height="17.87" fill="#f66b53"/>
<rect x="258.06" y="340.83" width="16.36" height="17.87" fill="#ebe0db"/>
<rect x="274.38" y="340.83" width="16.36" height="17.87" fill="#aed5ea"/>
<rect x="290.69" y="340.83" width="16.36" height="17.87" fill="#fcdccb"/>
<rect x="307.00" y="340.83" width="16.36" height="17.87" fill="#fbbc9c"/>
<rect x="323.31" y="340.83" width="16.36" height="17.87" fill="#acd4ea"/>
<rect x="339.62" y="340.83" width="16.36" height="17.87" fill="#acd4ea"/>
<rect x="355.94" y="340.83" width="16.36" height="17.87" fill="#acd4ea"/>
<rect x="372.25" y="340.83" width="16.36" height="17.87" fill="#acd4ea"/>
<rect x="388.56" y="340.83" width="16.36" height="17.87" fill="#fbe0d4"/>
<rect x="404.88" y="340.83" width="16.36" height="17.87" fill="#acd4ea"/>
<rect x="421.19" y="340.83" width="16.36" height="17.87" fill="#acd4ea"/>
<rect x="46.00" y="358.65" width="16.36" height="17.87" fill="#f77c5d"/>
<rect x="62.31" y="358.65" width="16.36" height="17.87" fill="#dcdfe1"/>
<rect x="78.62" y="358.65" width="16.36" height="17.87" fill="#d9dfe3"/>
<rect x="94.94" y="358.65" width="16.36" height="17.87" fill="#abd4e9"/>
<rect x="111.25" y="358.65" width="16.36" height="17.87" fill="#acd4ea"/>
<rect x="127.56" y="358.65" width="16.36" height="17.87" fill="#dcdfe2"/>
<rect x="143.88" y="358.65" width="16.36" height="17.87" fill="#acd4ea"/>
<rect x="160.19" y="358.65" width="16.36" height="17.87" fill="#a8d2e8"/>
<rect x="176.50" y="358.65" width="16.36" height="17.87" fill="#e6e0dd"/>
<rect x="192.81" y="358.65" width="16.36" height="17.87" fill="#ebe0dc"/>
<rect x="209.12" y="358.65" width="16.36" height="17.87" fill="#fbbd9e"/>
<rect x="225.44" y="358.65" width="16.36" height="17.87" fill="#acd4ea"/>
<rect x="241.75" y="358.65" width="16.36" height="17.87" fill="#fbe0d2"/>
<rect x="258.06" y="358.65" width="16.36" height="17.87" fill="#acd4ea"/>
<rect x="274.38" y="358.65" width="16.36" height="17.87" fill="#c7e1ef"/>
<rect x="290.69" y="358.65" width="16.36" height="17.87" fill="#fbc0a2"/>
<rect x="307.00" y="358.65" width="16.36" height="17.87" fill="#c5102b"/>
<rect x="323.31" y="358.65" width="16.36" height="17.87" fill="#acd4ea"/>
<rect x="339.62" y="358.65" width="16.36" height="17.87" fill="#acd4ea"/>
<rect x="355.94" y="358.65" width="16.36" height="17.87" fill="#acd4ea"/>
<rect x="372.25" y="358.65" width="16.36" height="17.87" fill="#f99972"/>
<rect x="388.56" y="358.65" width="16.36" height="17.87" fill="#acd4ea"/>
<rect x="404.88" y="358.65" width="16.36" height="17.87" fill="#acd4ea"/>
<rect x="421.19" y="358.65" width="16.36" height="17.87" fill="#acd4ea"/>
<rect x="46.00" y="376.48" width="16.36" height="17.87" fill="#fcdece"/>
<rect x="62.31" y="376.48" width="16.36" height="17.87" fill="#fccfb9"/>
<rect x="78.62" y="376.48" width="16.36" height="17.87" fill="#c6e1ef"/>
<rect x="94.94" y="376.48" width="16.36" height="17.87" fill="#aad3e9"/>
<rect x="111.25" y="376.48" width="16.36" height="17.87" fill="#b6d8ec"/>
<rect x="127.56" y="376.48" width="16.36" height="17.87" fill="#ebe0dc"/>
<rect x="143.88" y="376.48" width="16.36" height="17.87" fill="#acd4ea"/>
<rect x="160.19" y="376.48" width="16.36" height="17.87" fill="#f6e0d7"/>
<rect x="176.50" y="376.48" width="16.36" height="17.87" fill="#f8805f"/>
<rect x="192.81" y="376.48" width="16.36" height="17.87" fill="#acd4ea"/>
<rect x="209.12" y="376.48" width="16.36" height="17.87" fill="#fcd1bb"/>
<rect x="225.44" y="376.48" width="16.36" height="17.87" fill="#fbc5a8"/>
<rect x="241.75" y="376.48" width="16.36" height="17.87" fill="#fa9c78"/>
<rect x="258.06" y="376.48" width="16.36" height="17.87" fill="#acd4ea"/>
<rect x="274.38" y="376.48" width="16.36" height="17.87" fill="#b0d6eb"/>
<rect x="290.69" y="376.48" width="16.36" height="17.87" fill="#f9a07b"/>
<rect x="307.00" y="376.48" width="16.36" height="17.87" fill="#f6735a"/>
<rect x="323.31" y="376.48" width="16.36" height="17.87" fill="#acd4ea"/>
<rect x="339.62" y="376.48" width="16.36" height="17.87" fill="#acd4ea"/>
<rect x="355.94" y="376.48" width="16.36" height="17.87" fill="#acd4ea"/>
<rect x="372.25" y="376.48" width="16.36" height="17.87" fill="#acd4ea"/>
<rect x="388.56" y="376.48" width="16.36" height="17.87" fill="#acd4ea"/>
<rect x="404.88" y="376.48" width="16.36" height="17.87" fill="#acd4ea"/>
<rect x="421.19" y="376.48" width="16.36" height="17.87" fill="#acd4ea"/>
<rect x="46.00" y="3.0" width="16.36" height="6.60" fill="#FA8874"/>
<rect x="46.00" y="11.1" width="16.36" height="6.70" fill="#FA84F8"/>
<rect x="62.31" y="3.0" width="16.36" height="6.60" fill="#FA8874"/>
<rect x="62.31" y="11.1" width="16.36" height="6.70" fill="#FA84F8"/>
<rect x="78.62" y="3.0" width="16.36" height="6.60" fill="#FA8874"/>
<rect x="78.62" y="11.1" width="16.36" height="6.70" fill="#FA84F8"/>
<rect x="94.94" y="3.0" width="16.36" height="6.60" fill="#FA8874"/>
<rect x="94.94" y="11.1" width="16.36" height="6.70" fill="#FA84F8"/>
<rect x="111.25" y="3.0" width="16.36" height="6.60" fill="#00CBFF"/>
<rect x="111.25" y="11.1" width="16.36" height="6.70" fill="#FA84F8"/>
<rect x="127.56" y="3.0" width="16.36" height="6.60" fill="#00CBFF"/>
<rect x="127.56" y="11.1" width="16.36" height="6.70" fill="#FA84F8"/>
<rect x="143.88" y="3.0" width="16.36" height="6.60" fill="#00CBFF"/>
<rect x="143.88" y="11.1" width="16.36" height="6.70" fill="#FA84F8"/>
<rect x="160.19" y="3.0" width="16.36" height="6.60" fill="#00CBFF"/>
<rect x="160.19" y="11.1" width="16.36" height="6.70" fill="#FA84F8"/>
<rect x="176.50" y="3.0" width="16.36" height="6.60" fill="#00CBFF"/>
<rect x="176.50" y="11.1" width="16.36" height="6.70" fill="#FA84F8"/>
<rect x="192.81" y="3.0" width="16.36" height="6.60" fill="#00CBFF"/>
<rect x="192.81" y="11.1" width="16.36" height="6.70" fill="#00DB98"/>
<rect x="209.12" y="3.0" width="16.36" height="6.60" fill="#00CBFF"/>
<rect x="209.12" y="11.1" width="16.36" height="6.70" fill="#00DB98"/>
<rect x="225.44" y="3.0" width="16.36" height="6.60" fill="#00CBFF"/>
<rect x="225.44" y="11.1" width="16.36" height="6.70" fill="#00DB98"/>
<rect x="241.75" y="3.0" width="16.36" height="6.60" fill="#00CBFF"/>
<rect x="241.75" y="11.1" width="16.36" height="6.70" fill="#00DB98"/>
<rect x="258.06" y="3.0" width="16.36" height="6.60" fill="#00CBFF"/>
<rect x="258.06" y="11.1" width="16.36" height="6.70" fill="#00DB98"/>
<rect x="274.38" y="3.0" width="16.36" height="6.60" fill="#BEC100"/>
<rect x="274.38" y="11.1" width="16.36" height="6.70" fill="#FA84F8"/>
<rect x="290.69" y="3.0" width="16.36" height="6.60" fill="#BEC100"/>
<rect x="290.69" y="11.1" width="16.36" height="6.70" fill="#FA84F8"/>
<rect x="307.00" y="3.0" width="16.36" height="6.60" fill="#BEC100"/>
<rect x="307.00" y="11.1" width="16.36" height="6.70" fill="#FA84F8"/>
<rect x="323.31" y="3.0" width="16.36" height="6.60" fill="#BEC100"/>
<rect x="323.31" y="11.1" width="16.36" height="6.70" fill="#FA84F8"/>
<rect x="339.62" y="3.0" width="16.36" height="6.60" fill="#BEC100"/>
<rect x="339.62" y="11.1" width="16.36" height="6.70" fill="#FA84F8"/>
<rect x="355.94" y="3.0" width="16.36" height="6.60" fill="#BEC100"/>
<rect x="355.94" y="11.1" width="16.36" height="6.70" fill="#00DB98"/>
<rect x="372.25" y="3.0" width="16.36" height="6.60" fill="#BEC100"/>
<rect x="372.25" y="11.1" width="16.36" height="6.70" fill="#00DB98"/>
<rect x="388.56" y="3.0" width="16.36" height="6.60" fill="#BEC100"/>
<rect x="388.56" y="11.1" width="16.36" height="6.70" fill="#00DB98"/>
<rect x="404.88" y="3.0" width="16.36" height="6.60" fill="#BEC100"/>
<rect x="404.88" y="11.1" width="16.36" height="6.70" fill="#00DB98"/>
<rect x="421.19" y="3.0" width="16.36" height="6.60" fill="#BEC100"/>
<rect x="421.19" y="11.1" width="16.36" height="6.70" fill="#00DB98"/>
<path d="M46.00 3.0V9.6M46.00 11.1V17.8M62.31 3.0V9.6M62.31 11.1V17.8M78.62 3.0V9.6M78.62 11.1V17.8M94.94 3.0V9.6M94.94 11.1V17.8M111.25 3.0V9.6M111.25 11.1V17.8M127.56 3.0V9.6M127.56 11.1V17.8M143.88 3.0V9.6M143.88 11.1V17.8M160.19 3.0V9.6M160.19 11.1V17.8M176.50 3.0V9.6M176.50 11.1V17.8M192.81 3.0V9.6M192.81 11.1V17.8M209.12 3.0V9.6M209.12 11.1V17.8M225.44 3.0V9.6M225.44 11.1V17.8M241.75 3.0V9.6M241.75 11.1V17.8M258.06 3.0V9.6M258.06 11.1V17.8M274.38 3.0V9.6M274.38 11.1V17.8M290.69 3.0V9.6M290.69 11.1V17.8M307.00 3.0V9.6M307.00 11.1V17.8M323.31 3.0V9.6M323.31 11.1V17.8M339.62 3.0V9.6M339.62 11.1V17.8M355.94 3.0V9.6M355.94 11.1V17.8M372.25 3.0V9.6M372.25 11.1V17.8M388.56 3.0V9.6M388.56 11.1V17.8M404.88 3.0V9.6M404.88 11.1V17.8M421.19 3.0V9.6M421.19 11.1V17.8M437.50 3.0V9.6M437.50 11.1V17.8M46.0 3.0H437.5M46.0 9.6H437.5M46.0 11.1H437.5M46.0 17.8H437.5" stroke="#9aa" stroke-width="0.8" fill="none" opacity="0.35"/>
<path d="M46.00 20.0V394.3M62.31 20.0V394.3M78.62 20.0V394.3M94.94 20.0V394.3M111.25 20.0V394.3M127.56 20.0V394.3M143.88 20.0V394.3M160.19 20.0V394.3M176.50 20.0V394.3M192.81 20.0V394.3M209.12 20.0V394.3M225.44 20.0V394.3M241.75 20.0V394.3M258.06 20.0V394.3M274.38 20.0V394.3M290.69 20.0V394.3M307.00 20.0V394.3M323.31 20.0V394.3M339.62 20.0V394.3M355.94 20.0V394.3M372.25 20.0V394.3M388.56 20.0V394.3M404.88 20.0V394.3M421.19 20.0V394.3M437.50 20.0V394.3M46.0 20.00H437.5M46.0 37.82H437.5M46.0 55.65H437.5M46.0 73.47H437.5M46.0 91.30H437.5M46.0 109.12H437.5M46.0 126.94H437.5M46.0 144.77H437.5M46.0 162.59H437.5M46.0 180.41H437.5M46.0 198.24H437.5M46.0 216.06H437.5M46.0 233.89H437.5M46.0 251.71H437.5M46.0 269.53H437.5M46.0 287.36H437.5M46.0 305.18H437.5M46.0 323.00H437.5M46.0 340.83H437.5M46.0 358.65H437.5M46.0 376.48H437.5M46.0 394.30H437.5" stroke="#8596a0" stroke-width="0.9" fill="none" opacity="0.95"/>
<text x="440" y="8.3" font-size="6.5" font-weight="bold" fill="#111" stroke="#111" stroke-width="0.15">Region</text>
<text x="440" y="16.5" font-size="6.5" font-weight="bold" fill="#111" stroke="#111" stroke-width="0.15">Location</text>
<text x="440" y="31.11" font-size="6.5" fill="#1a1a1a" stroke="#1a1a1a" stroke-width="0.12">Bifidobacterium</text>
<text x="440" y="48.94" font-size="6.5" fill="#1a1a1a" stroke="#1a1a1a" stroke-width="0.12">Lactobacillus</text>
<text x="440" y="66.76" font-size="6.5" fill="#1a1a1a" stroke="#1a1a1a" stroke-width="0.12">Megasphaera</text>
<text x="440" y="84.58" font-size="6.5" fill="#1a1a1a" stroke="#1a1a1a" stroke-width="0.12">Veillonella</text>
<text x="440" y="102.41" font-size="6.5" fill="#1a1a1a" stroke="#1a1a1a" stroke-width="0.12">Anaerovibrio</text>
<text x="440" y="120.23" font-size="6.5" fill="#1a1a1a" stroke="#1a1a1a" stroke-width="0.12">Not_Assigned</text>
<text x="440" y="138.05" font-size="6.5" fill="#1a1a1a" stroke="#1a1a1a" stroke-width="0.12">Prevotella</text>
<text x="440" y="155.88" font-size="6.5" fill="#1a1a1a" stroke="#1a1a1a" stroke-width="0.12">Bacteroides</text>
<text x="440" y="173.70" font-size="6.5" fill="#1a1a1a" stroke="#1a1a1a" stroke-width="0.12">CF231</text>
<text x="440" y="191.53" font-size="6.5" fill="#1a1a1a" stroke="#1a1a1a" stroke-width="0.12">Campylobacter</text>
<text x="440" y="209.35" font-size="6.5" fill="#1a1a1a" stroke="#1a1a1a" stroke-width="0.12">Flexispira</text>
<text x="440" y="227.17" font-size="6.5" fill="#1a1a1a" stroke="#1a1a1a" stroke-width="0.12">Helicobacter</text>
<text x="440" y="245.00" font-size="6.5" fill="#1a1a1a" stroke="#1a1a1a" stroke-width="0.12">Succinivibrio</text>
<text x="440" y="262.82" font-size="6.5" fill="#1a1a1a" stroke="#1a1a1a" stroke-width="0.12">Dialister</text>
<text x="440" y="280.65" font-size="6.5" fill="#1a1a1a" stroke="#1a1a1a" stroke-width="0.12">Ruminococcus</text>
<text x="440" y="298.47" font-size="6.5" fill="#1a1a1a" stroke="#1a1a1a" stroke-width="0.12">Blautia</text>
<text x="440" y="316.29" font-size="6.5" fill="#1a1a1a" stroke="#1a1a1a" stroke-width="0.12">Roseburia</text>
<text x="440" y="334.12" font-size="6.5" fill="#1a1a1a" stroke="#1a1a1a" stroke-width="0.12">Coprococcus</text>
<text x="440" y="351.94" font-size="6.5" fill="#1a1a1a" stroke="#1a1a1a" stroke-width="0.12">Mitsuokella</text>
<text x="440" y="369.76" font-size="6.5" fill="#1a1a1a" stroke="#1a1a1a" stroke-width="0.12">Eubacterium</text>
<text x="440" y="387.59" font-size="6.5" fill="#1a1a1a" stroke="#1a1a1a" stroke-width="0.12">Streptococcus</text>
<text transform="translate(51.86,397) rotate(90)" font-size="6.4" fill="#1a1a1a" stroke="#1a1a1a" stroke-width="0.12">b21.PJ.M</text>
<text transform="translate(68.17,397) rotate(90)" font-size="6.4" fill="#1a1a1a" stroke="#1a1a1a" stroke-width="0.12">y26.PJ.M</text>
<text transform="translate(84.48,397) rotate(90)" font-size="6.4" fill="#1a1a1a" stroke="#1a1a1a" stroke-width="0.12">y3.PJ.M</text>
<text transform="translate(100.79,397) rotate(90)" font-size="6.4" fill="#1a1a1a" stroke="#1a1a1a" stroke-width="0.12">b15.PJ.M</text>
<text transform="translate(117.11,397) rotate(90)" font-size="6.4" fill="#1a1a1a" stroke="#1a1a1a" stroke-width="0.12">b21.DJ.M</text>
<text transform="translate(133.42,397) rotate(90)" font-size="6.4" fill="#1a1a1a" stroke="#1a1a1a" stroke-width="0.12">y26.DJ.M</text>
<text transform="translate(149.73,397) rotate(90)" font-size="6.4" fill="#1a1a1a" stroke="#1a1a1a" stroke-width="0.12">b36.DJ.M</text>
<text transform="translate(166.04,397) rotate(90)" font-size="6.4" fill="#1a1a1a" stroke="#1a1a1a" stroke-width="0.12">b15.DJ.M</text>
<text transform="translate(182.36,397) rotate(90)" font-size="6.4" fill="#1a1a1a" stroke="#1a1a1a" stroke-width="0.12">y3.DJ.M</text>
<text transform="translate(198.67,397) rotate(90)" font-size="6.4" fill="#1a1a1a" stroke="#1a1a1a" stroke-width="0.12">y26.DJ.D</text>
<text transform="translate(214.98,397) rotate(90)" font-size="6.4" fill="#1a1a1a" stroke="#1a1a1a" stroke-width="0.12">b36.DJ.D</text>
<text transform="translate(231.29,397) rotate(90)" font-size="6.4" fill="#1a1a1a" stroke="#1a1a1a" stroke-width="0.12">b15.DJ.D</text>
<text transform="translate(247.61,397) rotate(90)" font-size="6.4" fill="#1a1a1a" stroke="#1a1a1a" stroke-width="0.12">y3.DJ.D</text>
<text transform="translate(263.92,397) rotate(90)" font-size="6.4" fill="#1a1a1a" stroke="#1a1a1a" stroke-width="0.12">b21.DJ.D</text>
<text transform="translate(280.23,397) rotate(90)" font-size="6.4" fill="#1a1a1a" stroke="#1a1a1a" stroke-width="0.12">b15.C.M</text>
<text transform="translate(296.54,397) rotate(90)" font-size="6.4" fill="#1a1a1a" stroke="#1a1a1a" stroke-width="0.12">y26.C.M</text>
<text transform="translate(312.86,397) rotate(90)" font-size="6.4" fill="#1a1a1a" stroke="#1a1a1a" stroke-width="0.12">y3.C.M</text>
<text transform="translate(329.17,397) rotate(90)" font-size="6.4" fill="#1a1a1a" stroke="#1a1a1a" stroke-width="0.12">b36.C.M</text>
<text transform="translate(345.48,397) rotate(90)" font-size="6.4" fill="#1a1a1a" stroke="#1a1a1a" stroke-width="0.12">b21.C.M</text>
<text transform="translate(361.79,397) rotate(90)" font-size="6.4" fill="#1a1a1a" stroke="#1a1a1a" stroke-width="0.12">y3.C.D</text>
<text transform="translate(378.11,397) rotate(90)" font-size="6.4" fill="#1a1a1a" stroke="#1a1a1a" stroke-width="0.12">y26.C.D</text>
<text transform="translate(394.42,397) rotate(90)" font-size="6.4" fill="#1a1a1a" stroke="#1a1a1a" stroke-width="0.12">b15.C.D</text>
<text transform="translate(410.73,397) rotate(90)" font-size="6.4" fill="#1a1a1a" stroke="#1a1a1a" stroke-width="0.12">b36.C.D</text>
<text transform="translate(427.04,397) rotate(90)" font-size="6.4" fill="#1a1a1a" stroke="#1a1a1a" stroke-width="0.12">b21.C.D</text>
<path d="M3.00 44.60L3.00 207.40M3.00 44.60L30.30 44.60M30.30 28.91L30.30 59.80M30.30 28.91L46.00 28.91M30.30 59.80L36.40 59.80M36.40 46.74L36.40 73.40M36.40 46.74L46.00 46.74M36.40 73.40L40.20 73.40M40.20 64.56L40.20 82.38M40.20 64.56L46.00 64.56M40.20 82.38L46.00 82.38M3.00 207.40L12.60 207.40M12.60 138.30L12.60 276.80M12.60 138.30L28.70 138.30M28.70 113.70L28.70 162.60M28.70 113.70L34.10 113.70M34.10 100.21L34.10 127.00M34.10 100.21L46.00 100.21M34.10 127.00L38.50 127.00M38.50 118.03L38.50 135.85M38.50 118.03L46.00 118.03M38.50 135.85L46.00 135.85M28.70 162.60L31.10 162.60M31.10 153.68L31.10 171.50M31.10 153.68L46.00 153.68M31.10 171.50L46.00 171.50M12.60 276.80L13.10 276.80M13.10 229.50L13.10 326.20M13.10 229.50L25.40 229.50M25.40 202.60L25.40 256.00M25.40 202.60L32.80 202.60M32.80 189.33L32.80 216.00M32.80 189.33L46.00 189.33M32.80 216.00L43.40 216.00M43.40 207.15L43.40 224.97M43.40 207.15L46.00 207.15M43.40 224.97L46.00 224.97M25.40 256.00L31.10 256.00M31.10 242.80L31.10 269.60M31.10 242.80L46.00 242.80M31.10 269.60L33.40 269.60M33.40 260.62L33.40 278.45M33.40 260.62L46.00 260.62M33.40 278.45L46.00 278.45M13.10 326.20L20.80 326.20M20.80 305.20L20.80 347.50M20.80 305.20L37.40 305.20M37.40 296.27L37.40 314.09M37.40 296.27L46.00 296.27M37.40 314.09L46.00 314.09M20.80 347.50L30.90 347.50M30.90 331.92L30.90 363.10M30.90 331.92L46.00 331.92M30.90 363.10L33.70 363.10M33.70 349.74L33.70 376.40M33.70 349.74L46.00 349.74M33.70 376.40L35.00 376.40M35.00 367.56L35.00 385.39M35.00 367.56L46.00 367.56M35.00 385.39L46.00 385.39" stroke="#555" stroke-width="1.15" fill="none" stroke-linecap="square"/>
<defs><linearGradient id="cb" x1="0" y1="0" x2="0" y2="1"><stop offset="0.000" stop-color="rgb(160,0,35)"/><stop offset="0.065" stop-color="rgb(180,10,40)"/><stop offset="0.146" stop-color="rgb(215,30,45)"/><stop offset="0.228" stop-color="rgb(240,80,65)"/><stop offset="0.309" stop-color="rgb(250,140,110)"/><stop offset="0.390" stop-color="rgb(252,190,165)"/><stop offset="0.455" stop-color="rgb(250,220,210)"/><stop offset="0.500" stop-color="rgb(232,226,228)"/><stop offset="0.537" stop-color="rgb(215,225,235)"/><stop offset="0.593" stop-color="rgb(175,215,235)"/><stop offset="0.675" stop-color="rgb(100,190,225)"/><stop offset="0.732" stop-color="rgb(30,160,215)"/><stop offset="0.837" stop-color="rgb(15,125,190)"/><stop offset="0.919" stop-color="rgb(10,85,150)"/><stop offset="1.000" stop-color="rgb(10,50,100)"/></linearGradient></defs>
<rect x="490.8" y="2" width="8.3" height="123" fill="url(#cb)"/>
<text x="502.5" y="8.7" font-size="6.4" fill="#222" stroke="#222" stroke-width="0.12">4</text>
<text x="502.5" y="37.2" font-size="6.4" fill="#222" stroke="#222" stroke-width="0.12">2</text>
<text x="502.5" y="65.8" font-size="6.4" fill="#222" stroke="#222" stroke-width="0.12">0</text>
<text x="502.5" y="94.7" font-size="6.4" fill="#222" stroke="#222" stroke-width="0.12">−2</text>
<text x="502.5" y="123.5" font-size="6.4" fill="#222" stroke="#222" stroke-width="0.12">−4</text>
<text x="511.5" y="8.2" font-size="8" font-weight="bold" fill="#111" stroke="#111" stroke-width="0.2">Region</text>
<rect x="519.1" y="12.90" width="9.3" height="9.4" fill="#FA8874"/>
<text x="530.4" y="20.00" font-size="8" font-weight="bold" fill="#111" stroke="#111" stroke-width="0.2">7-PJ</text>
<rect x="519.1" y="22.23" width="9.3" height="9.4" fill="#00CBFF"/>
<text x="530.4" y="29.33" font-size="8" font-weight="bold" fill="#111" stroke="#111" stroke-width="0.2">7-DJ</text>
<rect x="519.1" y="31.56" width="9.3" height="9.4" fill="#BEC100"/>
<text x="530.4" y="38.66" font-size="8" font-weight="bold" fill="#111" stroke="#111" stroke-width="0.2">7-C</text>
<text x="509.8" y="54.8" font-size="8" font-weight="bold" fill="#111" stroke="#111" stroke-width="0.2">Location</text>
<rect x="519.2" y="59.00" width="9.4" height="9.4" fill="#FA84F8"/>
<text x="530.8" y="66.00" font-size="8" font-weight="bold" fill="#111" stroke="#111" stroke-width="0.2">7-M</text>
<rect x="519.2" y="68.30" width="9.4" height="9.4" fill="#00DB98"/>
<text x="530.8" y="75.30" font-size="8" font-weight="bold" fill="#111" stroke="#111" stroke-width="0.2">7-D</text>
</svg></body></html>
